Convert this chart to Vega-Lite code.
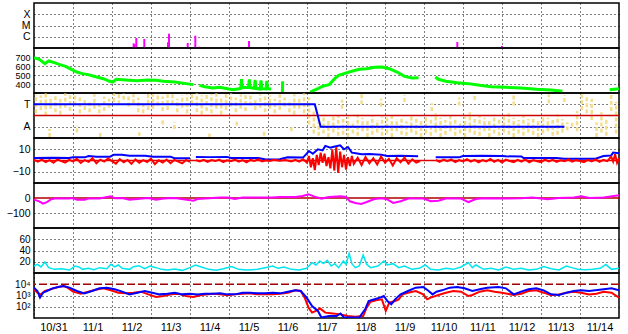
{
"$schema":"https://vega.github.io/schema/vega-lite/v6.json",
"padding":{"left":5,"top":2,"right":11,"bottom":0},
"spacing":0,
"bounds":"flush",
"config":{
 "view":{"stroke":"black","strokeWidth":1.5},
 "axis":{"grid":true,"gridColor":"black","gridDash":[1,3],"gridOpacity":1,"gridWidth":1,"domain":false,"ticks":false,"labelFont":"Liberation Sans","labelFontSize":11,"labelColor":"black","title":null,"labelOverlap":false},
 "axisY":{"minExtent":27,"maxExtent":27,"labelPadding":4,"labelBound":false,"labelFontSize":10.5}
},
"datasets":{
 "flares":[{"day":2.556,"flux":2.6e-7},{"day":2.577,"flux":2.2e-7},{"day":2.623,"flux":7.7e-7},{"day":2.828,"flux":6.3e-7},{"day":3.436,"flux":3.2e-7},{"day":3.462,"flux":1.87e-6},{"day":3.941,"flux":2.8e-7},{"day":4.136,"flux":1.24e-6},{"day":4.238,"flux":1.3e-7},{"day":5.513,"flux":4.2e-7},{"day":10.854,"flux":3.4e-7},{"day":12.0,"flux":1.5e-7}],
 "speed":[
  {"day":0,"speed":693,"seg":1},{"day":0.135,"speed":674,"seg":1},{"day":0.28,"speed":626,"seg":1},{"day":0.376,"speed":656,"seg":1},{"day":0.52,"speed":637,"seg":1},{"day":0.666,"speed":615,"seg":1},{"day":0.81,"speed":596,"seg":1},{"day":0.955,"speed":563,"seg":1},{"day":1.1,"speed":533,"seg":1},{"day":1.245,"speed":515,"seg":1},{"day":1.39,"speed":504,"seg":1},{"day":1.58,"speed":481,"seg":1},{"day":1.78,"speed":459,"seg":1},{"day":1.92,"speed":433,"seg":1},{"day":2.02,"speed":422,"seg":1},{"day":2.11,"speed":452,"seg":1},{"day":2.35,"speed":444,"seg":1},{"day":2.64,"speed":437,"seg":1},{"day":2.93,"speed":444,"seg":1},{"day":3.13,"speed":441,"seg":1},{"day":3.32,"speed":430,"seg":1},{"day":3.61,"speed":422,"seg":1},{"day":3.9,"speed":404,"seg":1},{"day":4.09,"speed":393,"seg":1},
  {"day":4.24,"speed":385,"seg":2},{"day":4.38,"speed":370,"seg":2},{"day":4.58,"speed":356,"seg":2},{"day":4.77,"speed":363,"seg":2},{"day":4.96,"speed":348,"seg":2},{"day":5.11,"speed":337,"seg":2},{"day":5.3,"speed":350,"seg":2},{"day":5.32,"speed":455,"seg":2},{"day":5.34,"speed":360,"seg":2},{"day":5.5,"speed":360,"seg":2},{"day":5.52,"speed":450,"seg":2},{"day":5.54,"speed":358,"seg":2},{"day":5.65,"speed":352,"seg":2},{"day":5.67,"speed":445,"seg":2},{"day":5.69,"speed":352,"seg":2},{"day":5.8,"speed":345,"seg":2},{"day":5.82,"speed":440,"seg":2},{"day":5.84,"speed":348,"seg":2},{"day":5.95,"speed":345,"seg":2},{"day":5.97,"speed":435,"seg":2},{"day":5.99,"speed":348,"seg":2},{"day":6.08,"speed":345,"seg":2},
  {"day":6.37,"speed":311,"seg":3},{"day":6.375,"speed":430,"seg":3},
  {"day":7.08,"speed":311,"seg":4},{"day":7.28,"speed":348,"seg":4},{"day":7.42,"speed":378,"seg":4},{"day":7.57,"speed":393,"seg":4},{"day":7.71,"speed":459,"seg":4},{"day":7.81,"speed":496,"seg":4},{"day":7.95,"speed":515,"seg":4},{"day":8.15,"speed":541,"seg":4},{"day":8.34,"speed":563,"seg":4},{"day":8.53,"speed":570,"seg":4},{"day":8.73,"speed":585,"seg":4},{"day":8.92,"speed":589,"seg":4},{"day":9.11,"speed":570,"seg":4},{"day":9.31,"speed":533,"seg":4},{"day":9.5,"speed":485,"seg":4},{"day":9.69,"speed":467,"seg":4},{"day":9.86,"speed":470,"seg":4},
  {"day":10.29,"speed":478,"seg":5},{"day":10.37,"speed":452,"seg":5},{"day":10.56,"speed":430,"seg":5},{"day":10.85,"speed":415,"seg":5},{"day":11.14,"speed":404,"seg":5},{"day":11.43,"speed":385,"seg":5},{"day":11.72,"speed":370,"seg":5},{"day":12.1,"speed":363,"seg":5},{"day":12.49,"speed":356,"seg":5},{"day":12.88,"speed":341,"seg":5},{"day":13.26,"speed":333,"seg":5},{"day":13.55,"speed":319,"seg":5},
  {"day":14.76,"speed":337,"seg":6},{"day":15.0,"speed":348,"seg":6}],
 "scatter":[
  {"day":0.05,"lo":0.2,"hi":1.9},{"day":0.175,"lo":0.5,"hi":1.8},{"day":0.3,"lo":0.0,"hi":1.95},{"day":0.425,"lo":0.6,"hi":1.7},{"day":0.55,"lo":0.3,"hi":1.9},{"day":0.675,"lo":0.1,"hi":1.5},{"day":0.8,"lo":0.7,"hi":1.95},{"day":0.925,"lo":0.4,"hi":1.8},{"day":1.05,"lo":0.9,"hi":1.9},{"day":1.175,"lo":0.2,"hi":1.6},{"day":1.3,"lo":0.5,"hi":1.4},{"day":1.425,"lo":0.3,"hi":1.2},{"day":1.55,"lo":0.6,"hi":1.9},{"day":1.675,"lo":0.2,"hi":1.0},{"day":1.8,"lo":0.4,"hi":1.7},{"day":1.925,"lo":0.7,"hi":1.5},{"day":2.05,"lo":1.2,"hi":1.95},{"day":2.175,"lo":1.0,"hi":1.9},{"day":2.3,"lo":1.4,"hi":1.95},{"day":2.425,"lo":0.8,"hi":1.8},{"day":2.55,"lo":1.1,"hi":1.9},{"day":2.675,"lo":0.3,"hi":1.6},{"day":2.8,"lo":0.2,"hi":1.0},{"day":2.925,"lo":0.5,"hi":1.95},{"day":3.05,"lo":0.6,"hi":1.9},{"day":3.175,"lo":0.9,"hi":1.95},{"day":3.3,"lo":0.4,"hi":1.7},{"day":3.425,"lo":0.5,"hi":1.9},{"day":3.55,"lo":1.0,"hi":1.95},{"day":3.675,"lo":0.3,"hi":1.5},{"day":3.8,"lo":0.7,"hi":1.8},{"day":3.925,"lo":0.2,"hi":1.9},{"day":4.05,"lo":1.0,"hi":1.9},{"day":4.175,"lo":0.3,"hi":1.95},{"day":4.3,"lo":0.1,"hi":1.8},{"day":4.425,"lo":0.4,"hi":1.95},{"day":4.55,"lo":0.2,"hi":1.9},{"day":4.675,"lo":0.6,"hi":1.95},{"day":4.8,"lo":0.1,"hi":1.7},{"day":4.925,"lo":0.5,"hi":1.9},{"day":5.05,"lo":0.8,"hi":1.95},{"day":5.175,"lo":0.3,"hi":1.6},{"day":5.3,"lo":0.6,"hi":1.9},{"day":5.425,"lo":0.4,"hi":1.8},{"day":5.55,"lo":0.9,"hi":1.95},{"day":5.675,"lo":0.5,"hi":1.5},{"day":5.8,"lo":0.7,"hi":1.9},{"day":5.925,"lo":0.3,"hi":1.7},{"day":6.05,"lo":0.6,"hi":1.8},{"day":6.175,"lo":0.2,"hi":1.5},{"day":6.3,"lo":0.5,"hi":1.9},{"day":6.425,"lo":0.8,"hi":1.6},{"day":6.55,"lo":0.3,"hi":1.4},{"day":6.675,"lo":0.1,"hi":1.9},{"day":6.8,"lo":0.6,"hi":1.7},{"day":6.925,"lo":0.2,"hi":1.95},{"day":7.05,"lo":-0.8,"hi":1.6},{"day":7.175,"lo":-1.6,"hi":0.5},
  {"day":7.3,"lo":-1.8,"hi":-0.2},{"day":7.425,"lo":-1.6,"hi":0.1},{"day":7.55,"lo":-1.9,"hi":-0.4},{"day":7.675,"lo":-1.5,"hi":-0.1},{"day":7.8,"lo":-1.8,"hi":0.0},{"day":7.925,"lo":-1.7,"hi":-0.3},{"day":8.05,"lo":-1.9,"hi":-0.1},{"day":8.175,"lo":-1.6,"hi":-0.5},{"day":8.3,"lo":-1.8,"hi":0.1},{"day":8.425,"lo":-1.4,"hi":-0.2},{"day":8.55,"lo":-1.9,"hi":-0.3},{"day":8.675,"lo":-1.7,"hi":0.0},{"day":8.8,"lo":-1.5,"hi":-0.4},{"day":8.925,"lo":-1.8,"hi":-0.1},{"day":9.05,"lo":-1.6,"hi":-0.2},{"day":9.175,"lo":-1.9,"hi":0.1},{"day":9.3,"lo":-1.4,"hi":-0.3},{"day":9.425,"lo":-1.7,"hi":-0.1},{"day":9.55,"lo":-1.8,"hi":-0.5},{"day":9.675,"lo":-1.5,"hi":0.0},{"day":9.8,"lo":-1.7,"hi":-0.2},{"day":9.925,"lo":-1.9,"hi":-0.4},{"day":10.05,"lo":-1.6,"hi":-0.1},{"day":10.175,"lo":-1.8,"hi":-0.3},{"day":10.3,"lo":-1.5,"hi":0.2},{"day":10.425,"lo":-1.9,"hi":-0.2},{"day":10.55,"lo":-1.7,"hi":-0.4},{"day":10.675,"lo":-1.4,"hi":0.0},{"day":10.8,"lo":-1.8,"hi":-0.2},{"day":10.925,"lo":-1.6,"hi":-0.5},{"day":11.05,"lo":-1.9,"hi":-0.1},{"day":11.175,"lo":-1.5,"hi":0.3},{"day":11.3,"lo":-1.7,"hi":-0.3},{"day":11.425,"lo":-1.8,"hi":0.0},{"day":11.55,"lo":-1.4,"hi":-0.2},{"day":11.675,"lo":-1.9,"hi":-0.4},{"day":11.8,"lo":-1.6,"hi":0.1},{"day":11.925,"lo":-1.8,"hi":-0.3},{"day":12.05,"lo":-1.5,"hi":-0.1},{"day":12.175,"lo":-1.7,"hi":0.2},{"day":12.3,"lo":-1.9,"hi":-0.2},{"day":12.425,"lo":-1.6,"hi":-0.4},{"day":12.55,"lo":-1.8,"hi":0.0},{"day":12.675,"lo":-1.5,"hi":-0.3},{"day":12.8,"lo":-1.7,"hi":-0.1},{"day":12.925,"lo":-1.9,"hi":-0.5},{"day":13.05,"lo":-1.6,"hi":0.0},{"day":13.175,"lo":-1.4,"hi":-0.2},{"day":13.3,"lo":-1.8,"hi":-0.4},{"day":13.425,"lo":-1.7,"hi":0.1},{"day":13.55,"lo":-1.5,"hi":-0.3},{"day":13.675,"lo":-1.3,"hi":-0.6},{"day":13.8,"lo":-1.0,"hi":-0.5},{"day":13.925,"lo":-1.4,"hi":0.4},{"day":14.05,"lo":0.5,"hi":1.9},{"day":14.175,"lo":0.2,"hi":1.7},{"day":14.3,"lo":-0.4,"hi":1.5},{"day":14.425,"lo":-1.9,"hi":-0.6},{"day":14.55,"lo":-1.5,"hi":0.3},{"day":14.675,"lo":-1.8,"hi":-0.2},{"day":14.8,"lo":0.4,"hi":1.9},{"day":14.925,"lo":-1.6,"hi":1.2},
  {"day":0.4,"lo":-1.9,"hi":-1.2},{"day":1.1,"lo":-1.5,"hi":-0.9},{"day":1.7,"lo":-1.9,"hi":-1.4},{"day":2.7,"lo":-1.8,"hi":-1.5},{"day":3.3,"lo":-0.8,"hi":-0.3},{"day":3.6,"lo":-1.2,"hi":-0.6},{"day":4.5,"lo":-1.9,"hi":-1.6},{"day":5.2,"lo":-0.9,"hi":-0.4},{"day":5.9,"lo":-1.8,"hi":-1.3},{"day":6.6,"lo":-1.4,"hi":-0.9},{"day":7.9,"lo":0.6,"hi":1.4},{"day":8.4,"lo":1.0,"hi":1.9},{"day":8.9,"lo":0.8,"hi":1.5},{"day":9.5,"lo":1.2,"hi":1.8},{"day":10.2,"lo":0.4,"hi":1.1},{"day":10.9,"lo":0.9,"hi":1.6},{"day":11.3,"lo":1.4,"hi":1.9},{"day":12.3,"lo":0.9,"hi":1.8},{"day":13.2,"lo":1.1,"hi":1.9},{"day":13.6,"lo":1.2,"hi":1.8}],
 "sector":[{"day":0,"polarity":1},{"day":7.2,"polarity":1},{"day":7.35,"polarity":-1},{"day":13.6,"polarity":-1}],
 "bt":[
  {"day":0,"bt":2.2,"seg":1},{"day":0.5,"bt":2.4,"seg":1},{"day":0.9,"bt":2.2,"seg":1},{"day":1.0,"bt":2.8,"seg":1},{"day":1.3,"bt":2.8,"seg":1},{"day":1.4,"bt":4.0,"seg":1},{"day":1.6,"bt":3.4,"seg":1},{"day":1.95,"bt":3.4,"seg":1},{"day":2.05,"bt":5.2,"seg":1},{"day":2.25,"bt":5.2,"seg":1},{"day":2.45,"bt":4.3,"seg":1},{"day":2.85,"bt":4.3,"seg":1},{"day":3.05,"bt":3.4,"seg":1},{"day":3.5,"bt":3.4,"seg":1},{"day":3.6,"bt":2.0,"seg":1},{"day":4.0,"bt":2.0,"seg":1},
  {"day":4.15,"bt":3.1,"seg":2},{"day":4.5,"bt":3.0,"seg":2},{"day":4.95,"bt":3.2,"seg":2},{"day":5.05,"bt":2.2,"seg":2},{"day":5.75,"bt":2.3,"seg":2},{"day":5.95,"bt":1.0,"seg":2},{"day":6.3,"bt":1.2,"seg":2},{"day":6.5,"bt":2.8,"seg":2},{"day":6.9,"bt":2.6,"seg":2},{"day":7.05,"bt":8.4,"seg":2},{"day":7.15,"bt":6.0,"seg":2},{"day":7.28,"bt":10.0,"seg":2},{"day":7.4,"bt":9.0,"seg":2},{"day":7.47,"bt":13.0,"seg":2},{"day":7.6,"bt":11.4,"seg":2},{"day":7.66,"bt":12.0,"seg":2},{"day":7.85,"bt":13.5,"seg":2},{"day":7.95,"bt":10.0,"seg":2},{"day":8.05,"bt":12.0,"seg":2},{"day":8.15,"bt":7.0,"seg":2},{"day":8.25,"bt":6.4,"seg":2},{"day":8.4,"bt":5.5,"seg":2},{"day":8.6,"bt":5.8,"seg":2},{"day":8.9,"bt":5.2,"seg":2},{"day":9.05,"bt":4.0,"seg":2},{"day":9.4,"bt":4.3,"seg":2},{"day":9.85,"bt":3.8,"seg":2},
  {"day":10.3,"bt":2.8,"seg":3},{"day":10.9,"bt":2.8,"seg":3},{"day":11.0,"bt":4.0,"seg":3},{"day":11.5,"bt":4.2,"seg":3},{"day":12.0,"bt":4.0,"seg":3},{"day":12.1,"bt":3.7,"seg":3},{"day":12.5,"bt":3.5,"seg":3},{"day":12.55,"bt":2.2,"seg":3},{"day":13.4,"bt":2.2,"seg":3},{"day":13.6,"bt":1.6,"seg":3},{"day":14.4,"bt":1.6,"seg":3},{"day":14.6,"bt":4.0,"seg":3},{"day":14.8,"bt":4.5,"seg":3},{"day":14.85,"bt":7.0,"seg":3},{"day":15.0,"bt":6.5,"seg":3}],
 "bz":[
  {"day":0.0,"bz":0.5,"seg":1},{"day":0.1,"bz":-1.0,"seg":1},{"day":0.2,"bz":0.8,"seg":1},{"day":0.3,"bz":-1.5,"seg":1},{"day":0.4,"bz":0.3,"seg":1},{"day":0.5,"bz":-2.0,"seg":1},{"day":0.6,"bz":1.0,"seg":1},{"day":0.7,"bz":-0.5,"seg":1},{"day":0.8,"bz":-1.8,"seg":1},{"day":0.9,"bz":0.6,"seg":1},{"day":1.0,"bz":-0.8,"seg":1},{"day":1.1,"bz":1.5,"seg":1},{"day":1.2,"bz":-2.2,"seg":1},{"day":1.3,"bz":0.4,"seg":1},{"day":1.4,"bz":-1.2,"seg":1},{"day":1.5,"bz":2.0,"seg":1},{"day":1.6,"bz":-2.5,"seg":1},{"day":1.7,"bz":0.8,"seg":1},{"day":1.8,"bz":-1.0,"seg":1},{"day":1.9,"bz":1.8,"seg":1},{"day":2.0,"bz":-0.6,"seg":1},{"day":2.1,"bz":-2.8,"seg":1},{"day":2.2,"bz":1.2,"seg":1},{"day":2.3,"bz":-1.5,"seg":1},{"day":2.4,"bz":0.5,"seg":1},{"day":2.5,"bz":-3.0,"seg":1},{"day":2.6,"bz":1.0,"seg":1},{"day":2.7,"bz":-2.0,"seg":1},{"day":2.8,"bz":0.3,"seg":1},{"day":2.9,"bz":-1.4,"seg":1},{"day":3.0,"bz":1.6,"seg":1},{"day":3.1,"bz":-3.2,"seg":1},{"day":3.2,"bz":0.2,"seg":1},{"day":3.3,"bz":-1.8,"seg":1},{"day":3.4,"bz":0.9,"seg":1},{"day":3.5,"bz":-2.4,"seg":1},{"day":3.6,"bz":0.5,"seg":1},{"day":3.7,"bz":-1.0,"seg":1},{"day":3.8,"bz":-2.6,"seg":1},{"day":3.9,"bz":0.4,"seg":1},{"day":4.0,"bz":-1.2,"seg":1},
  {"day":4.15,"bz":0.3,"seg":2},{"day":4.25,"bz":-0.8,"seg":2},{"day":4.35,"bz":0.6,"seg":2},{"day":4.45,"bz":-1.2,"seg":2},{"day":4.55,"bz":0.4,"seg":2},{"day":4.65,"bz":-0.5,"seg":2},{"day":4.75,"bz":0.8,"seg":2},{"day":4.85,"bz":-1.4,"seg":2},{"day":4.95,"bz":0.2,"seg":2},{"day":5.05,"bz":-0.6,"seg":2},{"day":5.15,"bz":0.9,"seg":2},{"day":5.25,"bz":-1.0,"seg":2},{"day":5.35,"bz":0.3,"seg":2},{"day":5.45,"bz":-1.6,"seg":2},{"day":5.55,"bz":0.5,"seg":2},{"day":5.65,"bz":-0.4,"seg":2},{"day":5.75,"bz":1.0,"seg":2},{"day":5.85,"bz":-0.9,"seg":2},{"day":5.95,"bz":0.2,"seg":2},{"day":6.05,"bz":-0.5,"seg":2},{"day":6.15,"bz":0.6,"seg":2},{"day":6.3,"bz":-0.3,"seg":2},{"day":6.45,"bz":0.4,"seg":2},{"day":6.6,"bz":-0.8,"seg":2},{"day":6.7,"bz":0.5,"seg":2},{"day":6.8,"bz":-1.0,"seg":2},{"day":6.9,"bz":1.2,"seg":2},{"day":7.0,"bz":-2.0,"seg":2},{"day":7.05,"bz":4.0,"seg":2},{"day":7.1,"bz":-6.0,"seg":2},{"day":7.15,"bz":2.0,"seg":2},{"day":7.2,"bz":-8.5,"seg":2},{"day":7.25,"bz":5.0,"seg":2},{"day":7.3,"bz":-4.0,"seg":2},{"day":7.35,"bz":7.0,"seg":2},{"day":7.4,"bz":-2.0,"seg":2},{"day":7.45,"bz":6.0,"seg":2},{"day":7.5,"bz":-5.0,"seg":2},{"day":7.55,"bz":3.0,"seg":2},{"day":7.6,"bz":-7.0,"seg":2},{"day":7.65,"bz":10.0,"seg":2},{"day":7.7,"bz":-9.0,"seg":2},{"day":7.75,"bz":12.0,"seg":2},{"day":7.8,"bz":-11.0,"seg":2},{"day":7.85,"bz":8.0,"seg":2},{"day":7.9,"bz":-6.0,"seg":2},{"day":7.95,"bz":5.0,"seg":2},{"day":8.0,"bz":-8.0,"seg":2},{"day":8.05,"bz":3.0,"seg":2},{"day":8.1,"bz":-5.0,"seg":2},{"day":8.15,"bz":4.0,"seg":2},{"day":8.2,"bz":-3.0,"seg":2},{"day":8.3,"bz":2.5,"seg":2},{"day":8.4,"bz":-4.0,"seg":2},{"day":8.5,"bz":3.0,"seg":2},{"day":8.6,"bz":-2.5,"seg":2},{"day":8.7,"bz":2.0,"seg":2},{"day":8.8,"bz":-3.5,"seg":2},{"day":8.9,"bz":3.5,"seg":2},{"day":9.0,"bz":-2.0,"seg":2},{"day":9.1,"bz":1.5,"seg":2},{"day":9.2,"bz":-4.5,"seg":2},{"day":9.3,"bz":2.0,"seg":2},{"day":9.4,"bz":-1.5,"seg":2},{"day":9.5,"bz":2.5,"seg":2},{"day":9.6,"bz":-2.8,"seg":2},{"day":9.7,"bz":1.0,"seg":2},{"day":9.8,"bz":-1.8,"seg":2},{"day":9.9,"bz":-0.5,"seg":2},
  {"day":10.3,"bz":0.5,"seg":3},{"day":10.4,"bz":-1.2,"seg":3},{"day":10.5,"bz":0.8,"seg":3},{"day":10.6,"bz":-0.6,"seg":3},{"day":10.7,"bz":1.0,"seg":3},{"day":10.8,"bz":-1.5,"seg":3},{"day":10.9,"bz":0.4,"seg":3},{"day":11.0,"bz":-0.8,"seg":3},{"day":11.1,"bz":1.2,"seg":3},{"day":11.2,"bz":-1.0,"seg":3},{"day":11.3,"bz":0.6,"seg":3},{"day":11.4,"bz":-1.6,"seg":3},{"day":11.5,"bz":0.3,"seg":3},{"day":11.6,"bz":-0.9,"seg":3},{"day":11.7,"bz":1.4,"seg":3},{"day":11.8,"bz":-1.2,"seg":3},{"day":11.9,"bz":0.5,"seg":3},{"day":12.0,"bz":-1.8,"seg":3},{"day":12.1,"bz":0.8,"seg":3},{"day":12.2,"bz":-0.5,"seg":3},{"day":12.3,"bz":-1.4,"seg":3},{"day":12.4,"bz":0.6,"seg":3},{"day":12.5,"bz":-1.0,"seg":3},{"day":12.6,"bz":1.0,"seg":3},{"day":12.7,"bz":-1.7,"seg":3},{"day":12.8,"bz":0.4,"seg":3},{"day":12.9,"bz":-0.6,"seg":3},{"day":13.0,"bz":-1.5,"seg":3},{"day":13.1,"bz":0.7,"seg":3},{"day":13.2,"bz":-0.9,"seg":3},{"day":13.3,"bz":0.5,"seg":3},{"day":13.4,"bz":-1.3,"seg":3},{"day":13.5,"bz":0.2,"seg":3},{"day":13.6,"bz":-0.7,"seg":3},{"day":13.7,"bz":0.9,"seg":3},{"day":13.8,"bz":-1.1,"seg":3},{"day":13.9,"bz":0.3,"seg":3},{"day":14.0,"bz":-0.5,"seg":3},{"day":14.1,"bz":-1.4,"seg":3},{"day":14.2,"bz":0.6,"seg":3},{"day":14.3,"bz":-0.8,"seg":3},{"day":14.4,"bz":1.0,"seg":3},{"day":14.5,"bz":-1.2,"seg":3},{"day":14.6,"bz":0.5,"seg":3},{"day":14.7,"bz":-0.6,"seg":3},{"day":14.8,"bz":3.5,"seg":3},{"day":14.85,"bz":-1.0,"seg":3},{"day":14.9,"bz":5.5,"seg":3},{"day":14.95,"bz":-2.0,"seg":3},{"day":15.0,"bz":2.0,"seg":3}],
 "dst":[{"day":0,"dst":-11},{"day":0.135,"dst":-22},{"day":0.23,"dst":-38},{"day":0.33,"dst":-27},{"day":0.425,"dst":-11},{"day":0.52,"dst":-4},{"day":0.9,"dst":-4},{"day":1.0,"dst":0},{"day":1.1,"dst":-11},{"day":1.3,"dst":-11},{"day":1.39,"dst":-4},{"day":1.68,"dst":-4},{"day":1.97,"dst":11},{"day":2.07,"dst":-2},{"day":2.26,"dst":0},{"day":2.45,"dst":-11},{"day":2.65,"dst":-7},{"day":2.93,"dst":0},{"day":3.13,"dst":-11},{"day":3.32,"dst":-4},{"day":3.61,"dst":0},{"day":4.09,"dst":-18},{"day":4.19,"dst":-7},{"day":4.5,"dst":-2},{"day":4.77,"dst":4},{"day":4.96,"dst":4},{"day":5.15,"dst":-7},{"day":5.35,"dst":4},{"day":6.1,"dst":4},{"day":6.31,"dst":7},{"day":6.7,"dst":7},{"day":6.89,"dst":13},{"day":7.04,"dst":24},{"day":7.18,"dst":11},{"day":7.37,"dst":-4},{"day":7.57,"dst":7},{"day":7.86,"dst":11},{"day":8.0,"dst":7},{"day":8.1,"dst":-22},{"day":8.24,"dst":-33},{"day":8.39,"dst":-40},{"day":8.53,"dst":-27},{"day":8.73,"dst":-7},{"day":8.92,"dst":-2},{"day":9.07,"dst":-11},{"day":9.21,"dst":-33},{"day":9.4,"dst":-22},{"day":9.6,"dst":-4},{"day":9.98,"dst":-4},{"day":10.18,"dst":-22},{"day":10.37,"dst":-18},{"day":10.56,"dst":-4},{"day":10.95,"dst":-4},{"day":11.14,"dst":-27},{"day":11.33,"dst":-7},{"day":11.53,"dst":-2},{"day":12.1,"dst":-4},{"day":12.49,"dst":-2},{"day":12.78,"dst":4},{"day":13.17,"dst":-9},{"day":13.46,"dst":0},{"day":13.84,"dst":4},{"day":14.04,"dst":11},{"day":14.23,"dst":0},{"day":14.61,"dst":4},{"day":15.0,"dst":18}],
 "density":[{"day":0,"n":12.4},{"day":0.087,"n":15.4},{"day":0.18,"n":10.7},{"day":0.28,"n":19.5},{"day":0.376,"n":9.5},{"day":0.52,"n":6.5},{"day":0.71,"n":7.7},{"day":0.91,"n":5.3},{"day":1.05,"n":12.4},{"day":1.15,"n":10.7},{"day":1.245,"n":6.5},{"day":1.39,"n":8.3},{"day":1.535,"n":5.9},{"day":1.68,"n":9.5},{"day":1.87,"n":7.7},{"day":1.97,"n":15.4},{"day":2.07,"n":10.7},{"day":2.16,"n":14.2},{"day":2.26,"n":8.3},{"day":2.45,"n":6.5},{"day":2.55,"n":11.3},{"day":2.69,"n":13.0},{"day":2.84,"n":7.7},{"day":2.98,"n":12.4},{"day":3.13,"n":9.5},{"day":3.27,"n":6.5},{"day":3.42,"n":5.3},{"day":3.61,"n":7.1},{"day":3.8,"n":4.7},{"day":4.0,"n":9.5},{"day":4.14,"n":14.2},{"day":4.29,"n":10.7},{"day":4.48,"n":6.5},{"day":4.67,"n":4.7},{"day":4.86,"n":7.7},{"day":5.06,"n":11.3},{"day":5.25,"n":6.5},{"day":5.44,"n":5.3},{"day":5.73,"n":6.5},{"day":5.93,"n":9.5},{"day":6.12,"n":12.4},{"day":6.26,"n":8.3},{"day":6.41,"n":10.7},{"day":6.6,"n":6.5},{"day":6.8,"n":5.3},{"day":6.99,"n":8.3},{"day":7.13,"n":18.4},{"day":7.23,"n":14.2},{"day":7.33,"n":21.3},{"day":7.42,"n":16.6},{"day":7.52,"n":22.5},{"day":7.62,"n":12.4},{"day":7.71,"n":16.6},{"day":7.81,"n":9.5},{"day":7.93,"n":21.3},{"day":8.0,"n":15.4},{"day":8.08,"n":35},{"day":8.15,"n":16.6},{"day":8.24,"n":9.5},{"day":8.34,"n":12.4},{"day":8.44,"n":32},{"day":8.53,"n":15.4},{"day":8.63,"n":9.5},{"day":8.82,"n":12.4},{"day":8.97,"n":21.3},{"day":9.06,"n":14.2},{"day":9.21,"n":16.6},{"day":9.35,"n":9.5},{"day":9.5,"n":12.4},{"day":9.69,"n":6.5},{"day":9.88,"n":8.3},{"day":10.03,"n":14.2},{"day":10.17,"n":6.5},{"day":10.37,"n":5.3},{"day":10.56,"n":8.3},{"day":10.75,"n":6.5},{"day":10.95,"n":10.7},{"day":11.14,"n":18.4},{"day":11.24,"n":9.5},{"day":11.33,"n":14.2},{"day":11.53,"n":6.5},{"day":11.72,"n":8.3},{"day":11.91,"n":5.3},{"day":12.1,"n":10.7},{"day":12.3,"n":6.5},{"day":12.49,"n":8.3},{"day":12.68,"n":5.3},{"day":12.88,"n":6.5},{"day":13.07,"n":11.3},{"day":13.26,"n":7.7},{"day":13.46,"n":5.3},{"day":13.65,"n":12.4},{"day":13.79,"n":9.5},{"day":13.94,"n":6.5},{"day":14.13,"n":5.9},{"day":14.32,"n":6.5},{"day":14.52,"n":8.3},{"day":14.66,"n":15.4},{"day":14.81,"n":6.5},{"day":15.0,"n":8.3}],
 "electronRed":[{"day":0,"flux":3530},{"day":0.087,"flux":1780},{"day":0.18,"flux":1260},{"day":0.28,"flux":2510},{"day":0.425,"flux":3530},{"day":0.62,"flux":5700},{"day":0.76,"flux":7000},{"day":0.86,"flux":4980},{"day":1.0,"flux":2190},{"day":1.2,"flux":1450},{"day":1.39,"flux":2190},{"day":1.58,"flux":3300},{"day":1.78,"flux":4340},{"day":1.97,"flux":2880},{"day":2.16,"flux":1780},{"day":2.36,"flux":1550},{"day":2.55,"flux":1780},{"day":2.74,"flux":2190},{"day":2.93,"flux":1260},{"day":3.13,"flux":740},{"day":3.32,"flux":904},{"day":3.51,"flux":1260},{"day":3.71,"flux":1450},{"day":3.9,"flux":904},{"day":4.09,"flux":740},{"day":4.29,"flux":1110},{"day":4.58,"flux":1450},{"day":4.77,"flux":1260},{"day":4.96,"flux":1035},{"day":5.15,"flux":1260},{"day":5.35,"flux":1450},{"day":5.54,"flux":1550},{"day":5.73,"flux":1260},{"day":5.93,"flux":1260},{"day":6.12,"flux":1260},{"day":6.31,"flux":1450},{"day":6.51,"flux":1780},{"day":6.7,"flux":2880},{"day":6.84,"flux":2510},{"day":6.94,"flux":646},{"day":7.04,"flux":83},{"day":7.13,"flux":30},{"day":7.23,"flux":42},{"day":7.33,"flux":72},{"day":7.47,"flux":30},{"day":7.66,"flux":25},{"day":7.86,"flux":21},{"day":8.05,"flux":15},{"day":8.24,"flux":13},{"day":8.44,"flux":15},{"day":8.53,"flux":83},{"day":8.63,"flux":282},{"day":8.77,"flux":372},{"day":8.92,"flux":457},{"day":9.02,"flux":42},{"day":9.11,"flux":229},{"day":9.26,"flux":324},{"day":9.35,"flux":457},{"day":9.45,"flux":1260},{"day":9.59,"flux":1780},{"day":9.79,"flux":2510},{"day":9.98,"flux":1260},{"day":10.08,"flux":457},{"day":10.17,"flux":646},{"day":10.37,"flux":1110},{"day":10.56,"flux":1780},{"day":10.75,"flux":2510},{"day":10.95,"flux":2190},{"day":11.14,"flux":904},{"day":11.24,"flux":1110},{"day":11.43,"flux":2190},{"day":11.62,"flux":2880},{"day":11.81,"flux":2190},{"day":12.0,"flux":1780},{"day":12.3,"flux":1110},{"day":12.49,"flux":1450},{"day":12.68,"flux":2510},{"day":12.88,"flux":2880},{"day":13.07,"flux":1780},{"day":13.26,"flux":1035},{"day":13.46,"flux":1260},{"day":13.65,"flux":1780},{"day":13.84,"flux":2190},{"day":14.03,"flux":1780},{"day":14.23,"flux":1260},{"day":14.42,"flux":1450},{"day":14.61,"flux":2190},{"day":14.81,"flux":1780},{"day":15.0,"flux":646}],
 "electronBlue":[{"day":0,"flux":4980},{"day":0.087,"flux":2510},{"day":0.154,"flux":646},{"day":0.232,"flux":1780},{"day":0.328,"flux":2510},{"day":0.473,"flux":4340},{"day":0.62,"flux":5700},{"day":0.76,"flux":7000},{"day":0.91,"flux":4980},{"day":1.1,"flux":2510},{"day":1.29,"flux":1550},{"day":1.49,"flux":2510},{"day":1.68,"flux":4340},{"day":1.87,"flux":4980},{"day":2.07,"flux":3530},{"day":2.26,"flux":2190},{"day":2.45,"flux":1260},{"day":2.65,"flux":1780},{"day":2.84,"flux":2510},{"day":3.03,"flux":1780},{"day":3.22,"flux":1260},{"day":3.42,"flux":1450},{"day":3.61,"flux":1780},{"day":3.8,"flux":1260},{"day":4.0,"flux":1450},{"day":4.19,"flux":1260},{"day":4.38,"flux":1450},{"day":4.58,"flux":1450},{"day":4.77,"flux":1550},{"day":4.96,"flux":1260},{"day":5.15,"flux":1260},{"day":5.35,"flux":1780},{"day":5.54,"flux":1780},{"day":5.73,"flux":1550},{"day":5.93,"flux":1550},{"day":6.12,"flux":1780},{"day":6.31,"flux":1550},{"day":6.51,"flux":2190},{"day":6.7,"flux":2880},{"day":6.84,"flux":2510},{"day":6.99,"flux":646},{"day":7.13,"flux":117},{"day":7.28,"flux":42},{"day":7.37,"flux":11},{"day":7.57,"flux":15},{"day":7.76,"flux":15},{"day":7.86,"flux":25},{"day":7.95,"flux":11},{"day":8.15,"flux":11},{"day":8.34,"flux":11},{"day":8.49,"flux":59},{"day":8.58,"flux":324},{"day":8.73,"flux":457},{"day":8.87,"flux":646},{"day":8.97,"flux":904},{"day":9.06,"flux":324},{"day":9.16,"flux":166},{"day":9.26,"flux":457},{"day":9.4,"flux":1260},{"day":9.59,"flux":2510},{"day":9.79,"flux":4980},{"day":9.98,"flux":5700},{"day":10.12,"flux":2510},{"day":10.22,"flux":1260},{"day":10.32,"flux":2190},{"day":10.46,"flux":2880},{"day":10.66,"flux":4980},{"day":10.85,"flux":5700},{"day":11.04,"flux":4340},{"day":11.24,"flux":2510},{"day":11.43,"flux":3530},{"day":11.62,"flux":4980},{"day":11.91,"flux":5700},{"day":12.1,"flux":4340},{"day":12.3,"flux":1260},{"day":12.49,"flux":2190},{"day":12.68,"flux":3530},{"day":12.88,"flux":4340},{"day":13.07,"flux":2880},{"day":13.26,"flux":1260},{"day":13.46,"flux":1110},{"day":13.65,"flux":1780},{"day":13.84,"flux":2510},{"day":14.03,"flux":2880},{"day":14.23,"flux":2510},{"day":14.61,"flux":3530},{"day":14.81,"flux":4340},{"day":15.0,"flux":2880}]
},
"vconcat":[
 {"width":585,"height":45,
  "data":{"name":"flares"},
  "mark":{"type":"rule","color":"#ff00ff","strokeWidth":2},
  "encoding":{
   "x":{"field":"day","type":"quantitative","scale":{"domain":[0,15],"nice":false},"axis":{"labels":false,"values":[1,2,3,4,5,6,7,8,9,10,11,12,13,14]}},
   "y":{"field":"flux","type":"quantitative","scale":{"type":"log","domain":[1e-7,1e-3],"nice":false},"axis":{"values":[1e-6,1e-5,1e-4],"labelExpr":"datum.value > 5e-5 ? 'X' : datum.value > 5e-6 ? 'M' : 'C'"}},
   "y2":{"datum":1e-7}}},
 {"width":585,"height":45,
  "data":{"name":"speed"},
  "mark":{"type":"line","color":"#00ff00","strokeWidth":3,"clip":true},
  "encoding":{
   "x":{"field":"day","type":"quantitative","scale":{"domain":[0,15],"nice":false},"axis":{"labels":false,"values":[1,2,3,4,5,6,7,8,9,10,11,12,13,14]}},
   "y":{"field":"speed","type":"quantitative","scale":{"domain":[300,800],"nice":false},"axis":{"values":[400,500,600,700],"labelFontSize":9}},
   "detail":{"field":"seg","type":"nominal"}}},
 {"width":585,"height":45,
  "layer":[
   {"data":{"name":"scatter"},
    "mark":{"type":"rule","color":"#f4de8e","strokeWidth":2.5,"strokeDash":[4,2]},
    "encoding":{
     "x":{"field":"day","type":"quantitative","scale":{"domain":[0,15],"nice":false},"axis":{"labels":false,"values":[1,2,3,4,5,6,7,8,9,10,11,12,13,14]}},
     "y":{"field":"lo","type":"quantitative","scale":{"domain":[-2,2],"nice":false},"axis":{"values":[-1,1],"labelExpr":"datum.value > 0 ? 'T' : 'A'"}},
     "y2":{"field":"hi"}}},
   {"data":{"values":[{}]},"mark":{"type":"rule","color":"#cc0000","strokeWidth":1.5},"encoding":{"y":{"datum":0}}},
   {"data":{"name":"sector"},
    "mark":{"type":"line","color":"#0000ff","strokeWidth":2},
    "encoding":{"x":{"field":"day","type":"quantitative"},"y":{"field":"polarity","type":"quantitative"}}}
  ]},
 {"width":585,"height":45,
  "layer":[
   {"data":{"values":[{}]},"mark":{"type":"rule","color":"#dd0000","strokeWidth":1.5},
    "encoding":{"y":{"datum":0,"type":"quantitative","scale":{"domain":[-20,20],"nice":false},"axis":{"values":[-10,0,10],"gridOpacity":{"condition":{"test":"datum.value == 0","value":0},"value":1}}}}},
   {"data":{"name":"bt"},
    "mark":{"type":"line","color":"#0000ff","strokeWidth":2},
    "encoding":{
     "x":{"field":"day","type":"quantitative","scale":{"domain":[0,15],"nice":false},"axis":{"labels":false,"values":[1,2,3,4,5,6,7,8,9,10,11,12,13,14]}},
     "y":{"field":"bt","type":"quantitative"},
     "detail":{"field":"seg","type":"nominal"}}},
   {"data":{"name":"bz"},
    "mark":{"type":"line","color":"#ff0000","strokeWidth":2},
    "encoding":{
     "x":{"field":"day","type":"quantitative"},
     "y":{"field":"bz","type":"quantitative"},
     "detail":{"field":"seg","type":"nominal"}}}
  ]},
 {"width":585,"height":45,
  "layer":[
   {"data":{"values":[{}]},"mark":{"type":"rule","color":"#b00000","strokeWidth":1.5},
    "encoding":{"y":{"datum":0,"type":"quantitative","scale":{"domain":[-200,100],"nice":false},"axis":{"values":[-100,0],"gridOpacity":{"condition":{"test":"datum.value == 0","value":0},"value":1}}}}},
   {"data":{"name":"dst"},
    "mark":{"type":"line","color":"#ff00ff","strokeWidth":2},
    "encoding":{
     "x":{"field":"day","type":"quantitative","scale":{"domain":[0,15],"nice":false},"axis":{"labels":false,"values":[1,2,3,4,5,6,7,8,9,10,11,12,13,14]}},
     "y":{"field":"dst","type":"quantitative"}}}
  ]},
 {"width":585,"height":45,
  "data":{"name":"density"},
  "mark":{"type":"line","color":"#00e5ee","strokeWidth":1.5},
  "encoding":{
   "x":{"field":"day","type":"quantitative","scale":{"domain":[0,15],"nice":false},"axis":{"labels":false,"values":[1,2,3,4,5,6,7,8,9,10,11,12,13,14]}},
   "y":{"field":"n","type":"quantitative","scale":{"domain":[0,80],"nice":false},"axis":{"values":[20,40,60],"labelFontSize":10}}}},
 {"width":585,"height":45,
  "layer":[
   {"data":{"values":[{}]},"mark":{"type":"rule","color":"#a00000","strokeWidth":1.5,"strokeDash":[8,3]},
    "encoding":{"y":{"datum":10000,"type":"quantitative","scale":{"type":"log","domain":[10,100000],"nice":false},"axis":{"values":[100,1000,10000],"labelFontSize":10,"labelExpr":"datum.value < 500 ? '10²' : datum.value < 5000 ? '10³' : '10⁴'","gridOpacity":{"condition":{"test":"datum.value > 5000","value":0},"value":1}}}}},
   {"data":{"name":"electronRed"},
    "mark":{"type":"line","color":"#ff0000","strokeWidth":2,"clip":true},
    "encoding":{
     "x":{"field":"day","type":"quantitative","scale":{"domain":[0,15],"nice":false},"axis":{"values":[0,1,2,3,4,5,6,7,8,9,10,11,12,13,14],"labelExpr":"['10/31','11/1','11/2','11/3','11/4','11/5','11/6','11/7','11/8','11/9','11/10','11/11','11/12','11/13','11/14'][datum.value]","labelOffset":19.5,"labelFlush":false,"labelOverlap":false,"labelPadding":3}},
     "y":{"field":"flux","type":"quantitative"}}},
   {"data":{"name":"electronBlue"},
    "mark":{"type":"line","color":"#0000ff","strokeWidth":2,"clip":true},
    "encoding":{
     "x":{"field":"day","type":"quantitative"},
     "y":{"field":"flux","type":"quantitative"}}}
  ]}
]
}
